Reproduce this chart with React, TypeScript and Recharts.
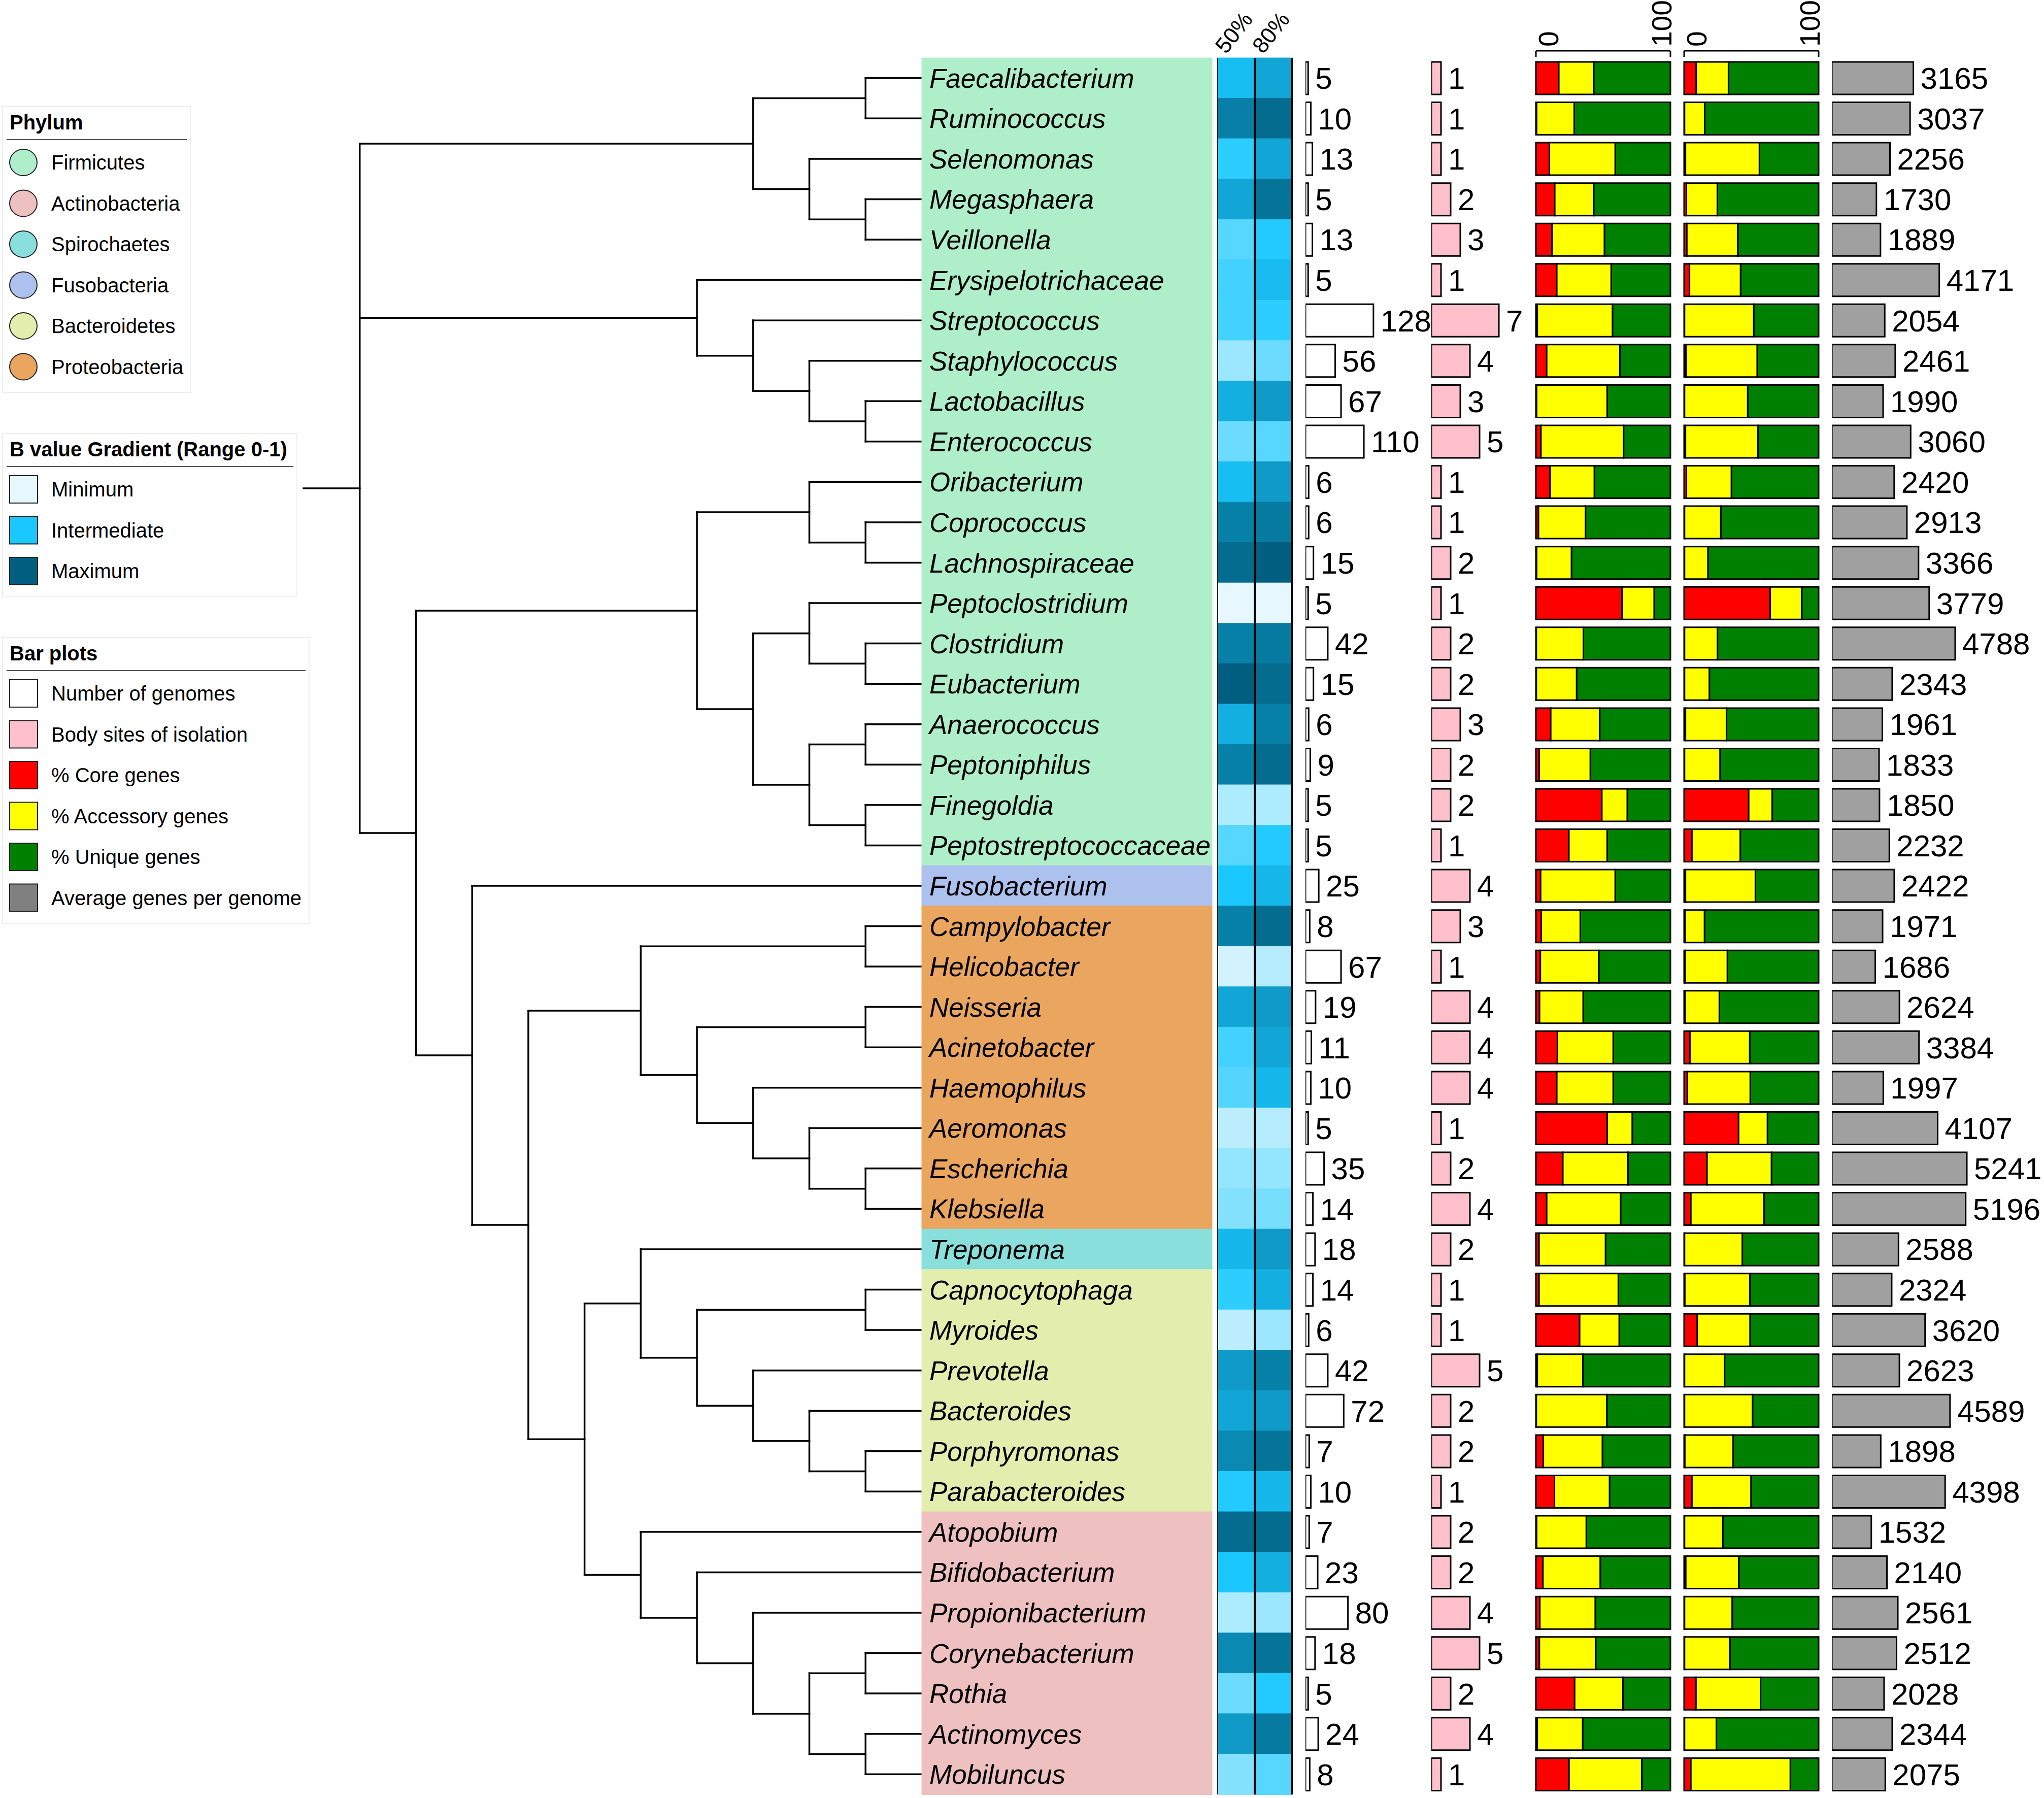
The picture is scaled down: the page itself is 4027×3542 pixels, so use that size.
import React from 'react';
import {
  BarChart,
  Bar,
  XAxis,
  YAxis,
  Cell,
  LabelList,
  ReferenceLine,
  ScatterChart,
  Scatter,
} from 'recharts';

// ---- data -----------------------------------------------------------------

const GENERA = [
  'Faecalibacterium', 'Ruminococcus', 'Selenomonas', 'Megasphaera', 'Veillonella',
  'Erysipelotrichaceae', 'Streptococcus', 'Staphylococcus', 'Lactobacillus', 'Enterococcus',
  'Oribacterium', 'Coprococcus', 'Lachnospiraceae', 'Peptoclostridium', 'Clostridium',
  'Eubacterium', 'Anaerococcus', 'Peptoniphilus', 'Finegoldia', 'Peptostreptococcaceae',
  'Fusobacterium', 'Campylobacter', 'Helicobacter', 'Neisseria', 'Acinetobacter',
  'Haemophilus', 'Aeromonas', 'Escherichia', 'Klebsiella', 'Treponema',
  'Capnocytophaga', 'Myroides', 'Prevotella', 'Bacteroides', 'Porphyromonas',
  'Parabacteroides', 'Atopobium', 'Bifidobacterium', 'Propionibacterium', 'Corynebacterium',
  'Rothia', 'Actinomyces', 'Mobiluncus',
];

const PHYLUM = [
  'Firmicutes', 'Firmicutes', 'Firmicutes', 'Firmicutes', 'Firmicutes',
  'Firmicutes', 'Firmicutes', 'Firmicutes', 'Firmicutes', 'Firmicutes',
  'Firmicutes', 'Firmicutes', 'Firmicutes', 'Firmicutes', 'Firmicutes',
  'Firmicutes', 'Firmicutes', 'Firmicutes', 'Firmicutes', 'Firmicutes',
  'Fusobacteria', 'Proteobacteria', 'Proteobacteria', 'Proteobacteria', 'Proteobacteria',
  'Proteobacteria', 'Proteobacteria', 'Proteobacteria', 'Proteobacteria', 'Spirochaetes',
  'Bacteroidetes', 'Bacteroidetes', 'Bacteroidetes', 'Bacteroidetes', 'Bacteroidetes',
  'Bacteroidetes', 'Actinobacteria', 'Actinobacteria', 'Actinobacteria', 'Actinobacteria',
  'Actinobacteria', 'Actinobacteria', 'Actinobacteria',
];

const PHYLA = ['Firmicutes', 'Actinobacteria', 'Spirochaetes', 'Fusobacteria', 'Bacteroidetes', 'Proteobacteria'];
const PHYLUM_COLORS = ['#aeeec8', '#eec0c0', '#88dfdc', '#adc1ee', '#e3edad', '#eaa55f'];

// B values (0-1) at 50% and 80%
const B50 = [
  0.55, 0.85, 0.45, 0.66, 0.35, 0.4, 0.4, 0.18, 0.62, 0.3,
  0.55, 0.84, 0.94, 0.0, 0.84, 1.0, 0.62, 0.84, 0.14, 0.35,
  0.5, 0.84, 0.05, 0.66, 0.4, 0.36, 0.1, 0.2, 0.24, 0.58,
  0.45, 0.1, 0.72, 0.66, 0.8, 0.48, 0.94, 0.5, 0.14, 0.8,
  0.3, 0.72, 0.24,
];
const B80 = [
  0.66, 0.94, 0.66, 0.9, 0.48, 0.56, 0.45, 0.3, 0.72, 0.35,
  0.72, 0.87, 1.0, 0.0, 0.87, 0.94, 0.84, 0.94, 0.14, 0.48,
  0.58, 0.94, 0.12, 0.72, 0.66, 0.58, 0.12, 0.2, 0.27, 0.72,
  0.62, 0.18, 0.84, 0.72, 0.9, 0.58, 0.94, 0.62, 0.18, 0.9,
  0.48, 0.87, 0.35,
];
const HEAT_HEADERS = ['50%', '80%'];

const GENOMES = [
  5, 10, 13, 5, 13, 5, 128, 56, 67, 110,
  6, 6, 15, 5, 42, 15, 6, 9, 5, 5,
  25, 8, 67, 19, 11, 10, 5, 35, 14, 18,
  14, 6, 42, 72, 7, 10, 7, 23, 80, 18,
  5, 24, 8,
];
const BODY_SITES = [
  1, 1, 1, 2, 3, 1, 7, 4, 3, 5,
  1, 1, 2, 1, 2, 2, 3, 2, 2, 1,
  4, 3, 1, 4, 4, 4, 1, 2, 4, 2,
  1, 1, 5, 2, 2, 1, 2, 2, 4, 5,
  2, 4, 1,
];

// first stacked panel (% core / accessory / unique)
const CORE_A = [
  17, 0.5, 10, 14, 12, 15.5, 1, 8, 0.5, 3.7,
  10.5, 1.9, 0.5, 64, 0.3, 0.3, 11, 2.5, 49, 24.5,
  3.5, 4, 3.3, 2.7, 16, 15.5, 53, 20, 8, 2.3,
  2.3, 32.5, 1, 0.3, 5.5, 13.8, 0.5, 5.2, 2.9, 2.6,
  28.8, 1, 24.6,
];
const ACC_A = [
  26, 28, 49, 29, 39, 40.5, 56, 54.5, 52.5, 61.5,
  33, 35, 26, 24, 35, 30, 36.5, 38, 19, 28.5,
  55.5, 29, 43.5, 32.5, 41.5, 42, 18.7, 48.5, 55, 49.5,
  59, 29.5, 34, 52.5, 44, 41, 37, 42.7, 41.3, 41.9,
  36, 33.8, 54.2,
];
const UNIQUE_A = [
  57, 71.5, 41, 57, 49, 44, 43, 37.5, 47, 34.8,
  56.5, 63.1, 73.5, 12, 64.7, 69.7, 52.5, 59.5, 32, 47,
  41, 67, 53.2, 64.8, 42.5, 42.5, 28.3, 31.5, 37, 48.2,
  38.7, 38, 65, 47.2, 50.5, 45.2, 62.5, 52.1, 55.8, 55.5,
  35.2, 65.2, 21.2,
];

// second stacked panel
const CORE_B = [
  9, 0.3, 1, 1.7, 2, 4, 0.3, 1.4, 0.3, 1,
  1.7, 0.3, 0.3, 64, 0.3, 0.3, 1, 0.3, 48, 5.8,
  1, 0.7, 0.7, 0.7, 4.3, 2.4, 40.5, 17, 5, 0.3,
  0.5, 9.8, 0.3, 0.3, 0.5, 5.8, 0.3, 1.2, 0.3, 0.3,
  8.8, 0.3, 5,
];
const ACC_B = [
  24, 15, 55, 23, 38, 38, 51.5, 53, 47, 54,
  33.5, 27, 17.5, 23.5, 24.5, 18.5, 30.5, 26.5, 17.5, 36,
  52, 14.5, 31.5, 25.5, 44.5, 46.8, 21.5, 48, 54.5, 43,
  48.5, 39.3, 29.8, 50.6, 36, 44, 28.5, 39.5, 35.5, 33.8,
  48, 23.7, 74,
];
const UNIQUE_B = [
  67, 84.7, 44, 75.3, 60, 58, 48.2, 45.6, 52.7, 45,
  64.8, 72.7, 82.2, 12.5, 75.2, 81.2, 68.5, 73.2, 34.5, 58.2,
  47, 84.8, 67.8, 73.8, 51.2, 50.8, 38, 35, 40.5, 56.7,
  51, 50.9, 69.9, 49.1, 63.5, 50.2, 71.2, 59.3, 64.2, 65.9,
  43.2, 76, 21,
];

const AVG_GENES = [
  3165, 3037, 2256, 1730, 1889, 4171, 2054, 2461, 1990, 3060,
  2420, 2913, 3366, 3779, 4788, 2343, 1961, 1833, 1850, 2232,
  2422, 1971, 1686, 2624, 3384, 1997, 4107, 5241, 5196, 2588,
  2324, 3620, 2623, 4589, 1898, 4398, 1532, 2140, 2561, 2512,
  2028, 2344, 2075,
];

const STACK_TICKS = [0, 100];

// dendrogram, nested by clade
type Clade = string | Clade[];
const TREE: Clade[] = [
  [['Faecalibacterium', 'Ruminococcus'], ['Selenomonas', ['Megasphaera', 'Veillonella']]],
  ['Erysipelotrichaceae', ['Streptococcus', ['Staphylococcus', ['Lactobacillus', 'Enterococcus']]]],
  [
    [
      ['Oribacterium', ['Coprococcus', 'Lachnospiraceae']],
      [
        ['Peptoclostridium', ['Clostridium', 'Eubacterium']],
        [['Anaerococcus', 'Peptoniphilus'], ['Finegoldia', 'Peptostreptococcaceae']],
      ],
    ],
    [
      'Fusobacterium',
      [
        [
          ['Campylobacter', 'Helicobacter'],
          [['Neisseria', 'Acinetobacter'], ['Haemophilus', ['Aeromonas', ['Escherichia', 'Klebsiella']]]],
        ],
        [
          ['Treponema', [['Capnocytophaga', 'Myroides'], ['Prevotella', ['Bacteroides', ['Porphyromonas', 'Parabacteroides']]]]],
          ['Atopobium', ['Bifidobacterium', ['Propionibacterium', [['Corynebacterium', 'Rothia'], ['Actinomyces', 'Mobiluncus']]]]],
        ],
      ],
    ],
  ],
];

// ---- layout ---------------------------------------------------------------

const W = 4027;
const H = 3542;
const FONT = '"Liberation Sans", Arial, Helvetica, sans-serif';
const TOP = 114;
const BOTTOM = 7;
const AXIS_H = 100;
const STACK_W = 265;

const rows = GENERA.map((genus, i) => ({
  genus,
  phylum: PHYLUM[i],
  band: 1,
  w50: 1,
  w80: 1,
  b50: B50[i],
  b80: B80[i],
  genomes: GENOMES[i],
  sites: BODY_SITES[i],
  coreA: CORE_A[i],
  accA: ACC_A[i],
  uniqA: UNIQUE_A[i],
  coreB: CORE_B[i],
  accB: ACC_B[i],
  uniqB: UNIQUE_B[i],
  avg: AVG_GENES[i],
}));

const phylumColor = (p: string) => PHYLUM_COLORS[PHYLA.indexOf(p)];

// B value gradient: minimum -> intermediate -> maximum
const B_STOPS = [
  [230, 248, 253],
  [26, 200, 255],
  [0, 95, 128],
];
function bColor(v: number) {
  const a = v <= 0.5 ? B_STOPS[0] : B_STOPS[1];
  const b = v <= 0.5 ? B_STOPS[1] : B_STOPS[2];
  const t = v <= 0.5 ? v / 0.5 : (v - 0.5) / 0.5;
  const c = a.map((x, k) => Math.round(x + (b[k] - x) * t));
  return `rgb(${c[0]},${c[1]},${c[2]})`;
}

// cladogram segments: x = -height (leaves at 0), y = row index
type Seg = { x1: number; y1: number; x2: number; y2: number };
function buildTree(root: Clade[]) {
  const segs: Seg[] = [];
  const walk = (node: Clade): { h: number; y: number } => {
    if (typeof node === 'string') return { h: 0, y: GENERA.indexOf(node) };
    const kids = node.map(walk);
    const h = 1 + Math.max(...kids.map((k) => k.h));
    const y = (kids[0].y + kids[kids.length - 1].y) / 2;
    segs.push({ x1: -h, y1: kids[0].y, x2: -h, y2: kids[kids.length - 1].y });
    kids.forEach((k) => segs.push({ x1: -h, y1: k.y, x2: -k.h, y2: k.y }));
    return { h, y };
  };
  const r = walk(root);
  segs.push({ x1: -(r.h + 1), y1: r.y, x2: -r.h, y2: r.y });
  return { segs, height: r.h };
}
const tree = buildTree(TREE);
const leafPoints = GENERA.map((g, i) => ({ x: 0, y: i }));

// ---- pieces ---------------------------------------------------------------

function TreeChart() {
  return (
    <ScatterChart width={1218} height={H} margin={{ top: TOP, bottom: BOTTOM, left: 0, right: 0 }}>
      <XAxis type="number" dataKey="x" domain={[-(tree.height + 1), 0]} allowDataOverflow hide />
      <YAxis type="number" dataKey="y" domain={[-0.5, GENERA.length - 0.5]} reversed allowDataOverflow hide />
      <Scatter data={leafPoints} fill="none" isAnimationActive={false} />
      {tree.segs.map((s, i) => (
        <ReferenceLine
          key={i}
          segment={[
            { x: s.x1, y: s.y1 },
            { x: s.x2, y: s.y2 },
          ]}
          stroke="#000"
          strokeWidth={3.5}
          strokeLinecap="square"
          ifOverflow="visible"
        />
      ))}
    </ScatterChart>
  );
}

function LabelChart() {
  return (
    <BarChart layout="vertical" width={572} height={H} data={rows} barCategoryGap={0}
      margin={{ top: TOP, bottom: BOTTOM, left: 0, right: 0 }}>
      <XAxis type="number" domain={[0, 1]} hide />
      <YAxis type="category" dataKey="genus" hide />
      <Bar dataKey="band" isAnimationActive={false}>
        {rows.map((r) => (
          <Cell key={r.genus} fill={phylumColor(r.phylum)} stroke={phylumColor(r.phylum)} strokeWidth={1} />
        ))}
        <LabelList dataKey="genus" position="insideLeft" offset={15} fill="#000"
          fontSize={53} fontStyle="italic" fontFamily={FONT} />
      </Bar>
    </BarChart>
  );
}

const HeatTick = (props: any) => {
  const { x, y, index } = props;
  const tx = x - 20;
  return (
    <text x={tx} y={y} transform={`rotate(-52 ${tx} ${y})`} textAnchor="start"
      fontSize={44} fontFamily={FONT} fill="#000">
      {HEAT_HEADERS[index]}
    </text>
  );
};

function HeatChart() {
  return (
    <BarChart layout="vertical" width={146} height={H} data={rows} barCategoryGap={0}
      margin={{ top: TOP - AXIS_H, bottom: BOTTOM, left: 0, right: 0 }}>
      <XAxis type="number" orientation="top" domain={[0, 2]} ticks={[0.5, 1.5]} interval={0}
        height={AXIS_H} tickSize={0} tickMargin={6} axisLine={false} tickLine={false} tick={<HeatTick />} />
      <YAxis type="category" dataKey="genus" hide />
      <Bar dataKey="w50" stackId="h" isAnimationActive={false}>
        {rows.map((r) => (
          <Cell key={r.genus} fill={bColor(r.b50)} stroke={bColor(r.b50)} strokeWidth={1} />
        ))}
      </Bar>
      <Bar dataKey="w80" stackId="h" isAnimationActive={false}>
        {rows.map((r) => (
          <Cell key={r.genus} fill={bColor(r.b80)} stroke={bColor(r.b80)} strokeWidth={1} />
        ))}
      </Bar>
      <ReferenceLine x={0} stroke="#222" strokeWidth={2} ifOverflow="visible" />
      <ReferenceLine x={1} stroke="#000" strokeWidth={4} ifOverflow="visible" />
      <ReferenceLine x={2} stroke="#000" strokeWidth={4} ifOverflow="visible" />
    </BarChart>
  );
}

function CountChart({ dataKey, fill, width, max }: { dataKey: string; fill: string; width: number; max: number }) {
  return (
    <BarChart layout="vertical" width={width} height={H} data={rows} barCategoryGap="10%"
      margin={{ top: TOP, bottom: BOTTOM, left: 0, right: 0 }}>
      <XAxis type="number" domain={[0, max]} allowDataOverflow hide />
      <YAxis type="category" dataKey="genus" hide />
      <Bar dataKey={dataKey} fill={fill} stroke="#000" strokeWidth={3} isAnimationActive={false}>
        <LabelList dataKey={dataKey} position="right" offset={14} fill="#000" fontSize={60} fontFamily={FONT} />
      </Bar>
    </BarChart>
  );
}

const BracketTick = (props: any) => {
  const { x, y, index, payload } = props;
  const top = y - 14;
  const cx = index === 0 ? x + 25 : x - 17;
  const ty = y - 22;
  return (
    <g>
      {index === 0 && <line x1={x} x2={x + STACK_W} y1={top} y2={top} stroke="#000" strokeWidth={3} />}
      <line x1={x} x2={x} y1={top} y2={y - 2} stroke="#000" strokeWidth={3} />
      <text x={cx} y={ty} transform={`rotate(-90 ${cx} ${ty})`} textAnchor="start"
        dominantBaseline="central" fontSize={55} fontFamily={FONT} fill="#000">
        {payload.value}
      </text>
    </g>
  );
};

function StackChart({ keys }: { keys: string[] }) {
  const colors = ['#ff0000', '#ffff00', '#008000'];
  return (
    <BarChart layout="vertical" width={STACK_W} height={H} data={rows} barCategoryGap="10%"
      margin={{ top: TOP - AXIS_H, bottom: BOTTOM, left: 0, right: 0 }}>
      <XAxis type="number" orientation="top" domain={[0, 100]} ticks={STACK_TICKS} interval={0}
        height={AXIS_H} tickSize={0} tickMargin={0} axisLine={false} tickLine={false} tick={<BracketTick />} />
      <YAxis type="category" dataKey="genus" hide />
      {keys.map((k, i) => (
        <Bar key={k} dataKey={k} stackId="s" fill={colors[i]} stroke="#000" strokeWidth={3} isAnimationActive={false} />
      ))}
    </BarChart>
  );
}

function LegendBox({ top, width, title, items }: {
  top: number; width: number; title: string;
  items: { label: string; color: string; round?: boolean }[];
}) {
  return (
    <g>
      <rect x={5} y={top} width={width} height={110 + items.length * 80.5 - 30}
        fill="#fff" stroke="#eeeeee" strokeWidth={2} />
      <text x={19} y={top + 31} dominantBaseline="central" fontSize={40} fontWeight="bold"
        fontFamily={FONT} fill="#000">{title}</text>
      <line x1={13} x2={width - 2} y1={top + 65} y2={top + 65} stroke="#555" strokeWidth={2} />
      {items.map((it, i) => {
        const cy = top + 110 + i * 80.5;
        return (
          <g key={it.label}>
            {it.round ? (
              <ellipse cx={46} cy={cy} rx={27} ry={26} fill={it.color} stroke="#222" strokeWidth={2} />
            ) : (
              <rect x={19} y={cy - 27} width={55} height={54} fill={it.color} stroke="#222" strokeWidth={2} />
            )}
            <text x={101} y={cy} dominantBaseline="central" fontSize={40} fontFamily={FONT} fill="#000">
              {it.label}
            </text>
          </g>
        );
      })}
    </g>
  );
}

function Legends() {
  return (
    <svg width={640} height={1850} style={{ position: 'absolute', left: 0, top: 0 }}>
      <LegendBox top={210} width={370} title="Phylum"
        items={PHYLA.map((p, i) => ({ label: p, color: PHYLUM_COLORS[i], round: true }))} />
      <LegendBox top={854} width={580} title="B value Gradient (Range 0-1)"
        items={[
          { label: 'Minimum', color: bColor(0) },
          { label: 'Intermediate', color: bColor(0.5) },
          { label: 'Maximum', color: bColor(1) },
        ]} />
      <LegendBox top={1256} width={604} title="Bar plots"
        items={[
          { label: 'Number of genomes', color: '#ffffff' },
          { label: 'Body sites of isolation', color: '#ffc0cb' },
          { label: '% Core genes', color: '#ff0000' },
          { label: '% Accessory genes', color: '#ffff00' },
          { label: '% Unique genes', color: '#008000' },
          { label: 'Average genes per genome', color: '#808080' },
        ]} />
    </svg>
  );
}

const place = (left: number): React.CSSProperties => ({ position: 'absolute', left, top: 0 });

export default function App() {
  return (
    <div style={{ position: 'absolute', left: 0, top: 0, width: W, height: H, background: '#fff', fontFamily: FONT, overflow: 'hidden' }}>
      <style>{'.recharts-surface{overflow:visible}'}</style>
      <Legends />
      <div style={place(598)}><TreeChart /></div>
      <div style={place(1816)}><LabelChart /></div>
      <div style={place(2399)}><HeatChart /></div>
      <div style={place(2572)}><CountChart dataKey="genomes" fill="#ffffff" width={251} max={240} /></div>
      <div style={place(2820)}><CountChart dataKey="sites" fill="#ffc0cb" width={190} max={10} /></div>
      <div style={place(3026)}><StackChart keys={['coreA', 'accA', 'uniqA']} /></div>
      <div style={place(3318)}><StackChart keys={['coreB', 'accB', 'uniqB']} /></div>
      <div style={place(3609)}><CountChart dataKey="avg" fill="#a0a0a0" width={406} max={8000} /></div>
    </div>
  );
}
